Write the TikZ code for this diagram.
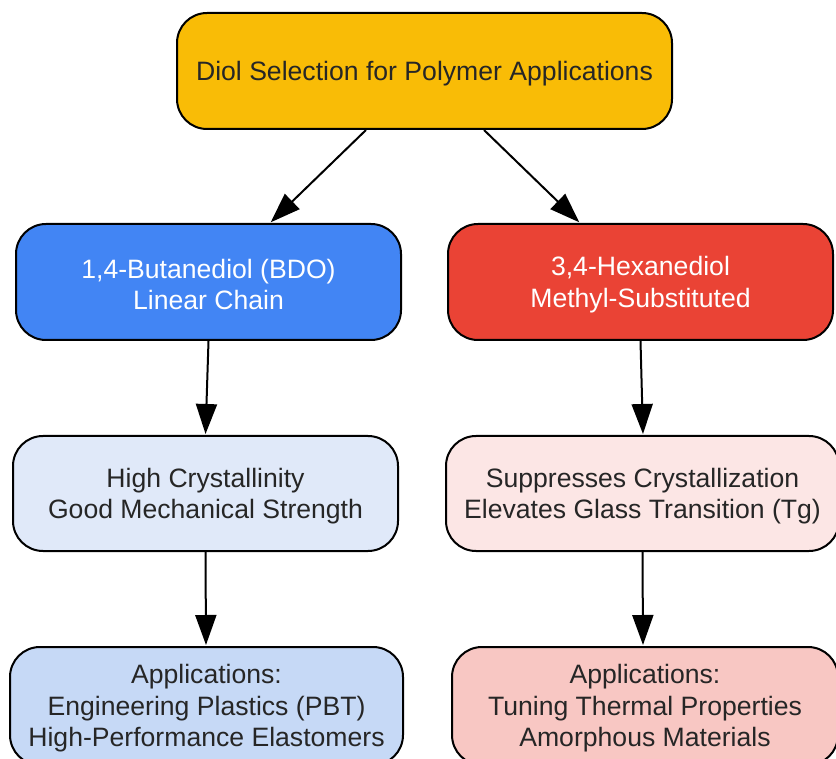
\documentclass[tikz,border=0pt]{standalone}
\usepackage{fontspec}
\setmainfont{Liberation Sans}
\usetikzlibrary{arrows.meta}
\definecolor{cyellow}{HTML}{F9BC06}
\definecolor{cblue}{HTML}{4285F4}
\definecolor{cred}{HTML}{EA4335}
\definecolor{clblue}{HTML}{E0E9F9}
\definecolor{clred}{HTML}{FCE6E5}
\definecolor{cmblue}{HTML}{C6D9F6}
\definecolor{cmred}{HTML}{F8C7C3}
\definecolor{ctext}{HTML}{262626}
\tikzset{
  box/.style={draw=black, line width=2pt, rounded corners=30pt, inner sep=0pt},
  txt/.style={align=center, font=\fontsize{26.6}{31.5}\selectfont, inner sep=0pt, yshift=-2.5pt},
  conn/.style={line width=2pt, -{Triangle[length=30pt,width=21pt]}, shorten >=1pt},
}
\begin{document}
\begin{tikzpicture}[x=1pt,y=-1pt]
\useasboundingbox (0,0) rectangle (836,759);
\node[box, fill=cyellow, minimum width=495pt, minimum height=116pt] (top) at (424.5,71) {};
\node[txt, text=ctext] (topt) at (top.center) {Diol Selection for Polymer Applications};
\node[box, fill=cblue, minimum width=385pt, minimum height=116pt] (bdo) at (208.5,282) {};
\node[txt, text=white] (bdot) at (bdo.center) {1,4-Butanediol (BDO)\\Linear Chain};
\node[box, fill=cred, minimum width=385pt, minimum height=116pt] (hex) at (640.5,282) {};
\node[txt, text=white] (hext) at (hex.center) {3,4-Hexanediol\\Methyl-Substituted};
\node[box, fill=clblue, minimum width=385pt, minimum height=115pt] (midl) at (205.5,493.5) {};
\node[txt, text=ctext] (midlt) at (midl.center) {High Crystallinity\\Good Mechanical Strength};
\node[box, fill=clred, minimum width=393pt, minimum height=115pt] (midr) at (642.5,493.5) {};
\node[txt, text=ctext] (midrt) at (midr.center) {Suppresses Crystallization\\Elevates Glass Transition (Tg)};
\node[box, fill=cmblue, minimum width=393pt, minimum height=118pt] (botl) at (206.5,706) {};
\node[txt, text=ctext] (botlt) at (botl.center) {Applications:\\Engineering Plastics (PBT)\\High-Performance Elastomers};
\node[box, fill=cmred, minimum width=386pt, minimum height=118pt] (botr) at (645,706) {};
\node[txt, text=ctext] (botrt) at (botr.center) {Applications:\\Tuning Thermal Properties\\Amorphous Materials};
\draw[conn] ([xshift=-58.5pt]top.south) -- ([xshift=61.5pt]bdo.north);
\draw[conn] ([xshift=59.5pt]top.south) -- ([xshift=-60.5pt]hex.north);
\draw[conn] (bdo.south) -- (midl.north);
\draw[conn] (hex.south) -- ([xshift=0.5pt]midr.north);
\draw[conn] (midl.south) -- ([xshift=-0.5pt]botl.north);
\draw[conn] (midr.south) -- ([xshift=-2pt]botr.north);
\end{tikzpicture}
\end{document}
